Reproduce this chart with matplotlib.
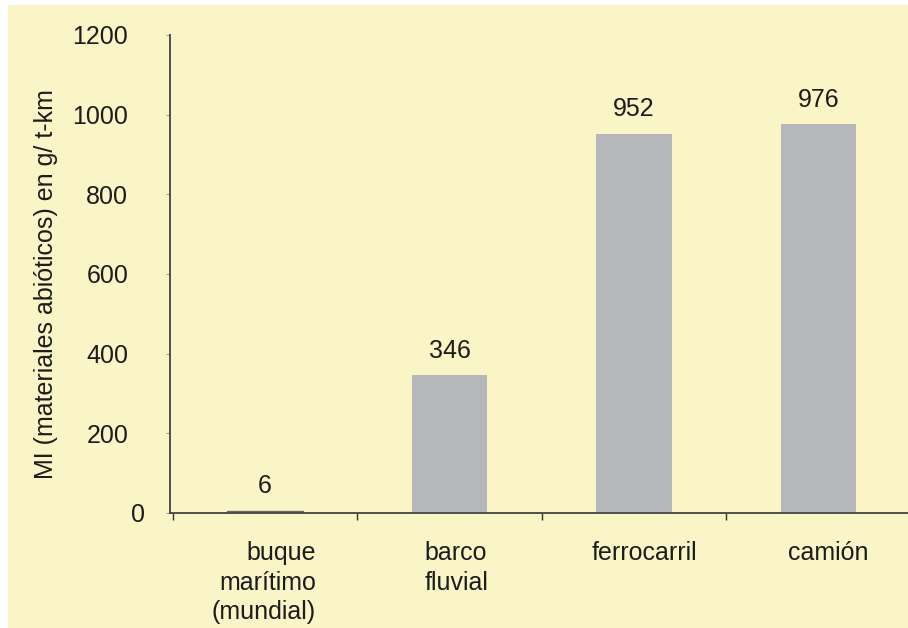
import matplotlib
matplotlib.use("Agg")
import matplotlib.pyplot as plt
import matplotlib.transforms as mtrans
from matplotlib.patches import Rectangle

categories = ["buque\nmarítimo\n(mundial)", "barco\nfluvial", "ferrocarril", "camión"]
values = [6, 346, 952, 976]
yticks = [0, 200, 400, 600, 800, 1000, 1200]
ylabel = "MI (materiales abióticos) en g/ t-km"

plt.rcParams['font.family'] = ['Liberation Sans', 'DejaVu Sans']
bg = "#faf5c6"
txt = "#1c1c1c"
FS = 18

fig = plt.figure(figsize=(9.08, 6.28), dpi=100)
fig.patch.set_facecolor("white")
fig.patches.append(Rectangle((8/908, 0), 1 - 8/908, 1 - 5/628, transform=fig.transFigure,
                             facecolor=bg, edgecolor="none", zorder=-10))

ax = fig.add_axes([170/908, 1 - 513/628, 738/908, (513 - 35)/628])
ax.patch.set_alpha(0)

x = list(range(len(values)))
bars = ax.bar(x, values, width=0.41, color="#b5b7ba", edgecolor="none", zorder=2)
bars[0].set_edgecolor("#6a6a6a")
bars[0].set_linewidth(1.0)
for xi, v in zip(x, values):
    ax.annotate(str(v), (xi, v), xytext=(0, 9), textcoords="offset points",
                ha="center", va="bottom", fontsize=FS, color=txt)

ax.set_xlim(-0.515, 3.485)
ax.set_ylim(0, 1200)
ax.set_yticks(yticks)
ax.set_yticklabels([str(t) for t in yticks], fontsize=FS, color=txt)
ax.tick_params(axis="y", length=3, width=0.8, color="#9a9a9a", direction="out", pad=27)
# the "0" label sits closer to the axis in the original
zero_lbl = ax.get_yticklabels()[0]
zero_lbl.set_transform(zero_lbl.get_transform() +
                       mtrans.ScaledTranslation(17/100, 0, fig.dpi_scale_trans))

ax.set_xticks([-0.5, 0.5, 1.5, 2.5])
ax.set_xticklabels([])
ax.tick_params(axis="x", length=5, direction="out", color="#333333", width=1)

label_ha = ["right", "left", "center", "center"]
label_pos = [0.275, -0.135, 0.055, 0.055]
for xi, lab, ha, dx in zip(x, categories, label_ha, label_pos):
    ax.text(xi + dx, -70, lab, ha=ha, va="top", fontsize=FS, color=txt,
            linespacing=1.3, transform=ax.transData, clip_on=False)

for s in ["top", "right"]:
    ax.spines[s].set_visible(False)
for s in ["left", "bottom"]:
    ax.spines[s].set_color("#444444")
    ax.spines[s].set_linewidth(1.3)

fig.text(46/908, 1 - 284/628, ylabel, rotation=90, ha="center", va="center",
         fontsize=FS, color=txt)

fig.savefig("out.png", dpi=100, facecolor=fig.get_facecolor())
